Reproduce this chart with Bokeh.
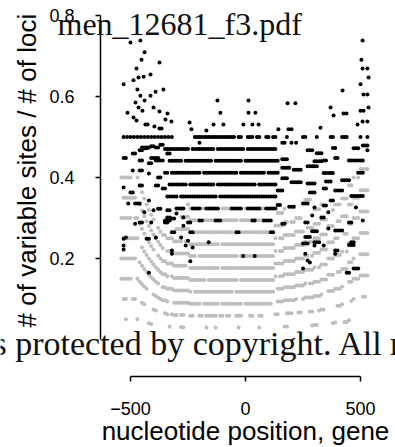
import math
from bokeh.plotting import figure
from bokeh.models import Range1d, FixedTicker, Label, LinearAxis
from bokeh.embed import file_html
from bokeh.resources import INLINE

# ---------------- data ----------------
# nucleotide positions (bins of 10 bp) relative to the gene
positions = list(range(-540, 540, 10))
# number of loci covering each position (estimated from band spacing)
loci_n = ([20] * 8
          + [21, 22, 23, 24, 25, 26, 27, 28, 29, 30, 31, 31, 32, 32, 32, 33, 33, 33, 33, 33, 33, 33]
          + [34] * 37
          + [32] * 4 + [31] * 5 + [30] * 4 + [29] * 4 + [28] * 3 + [27] * 3
          + [25] * 3 + [24] * 3 + [23] * 3 + [21] * 2 + [20] * 3 + [19] * 4)

# grey series: number of variable sites per row, and the position runs where it is seen
gray_counts = [1, 2, 3, 4, 5, 6, 7, 8, 9, 10, 11]
gray_runs = [
    [(-520, -520), (-470, -470), (-420, -410), (-330, -330), (-280, -270), (-170, -170), (-130, -130),
     (-30, -30), (60, 60), (170, 180), (290, 290), (300, 310), (380, 390), (430, 450)],
    [(-530, -520), (-490, -480), (-450, -440), (-400, -390), (-350, -340), (-320, -300), (-280, -270),
     (-240, -230), (-200, -190), (-170, -130), (-110, -100), (-80, -70), (-40, -20), (20, 30), (60, 70),
     (130, 140), (180, 200), (230, 240), (280, 290), (320, 340), (400, 420), (460, 470), (510, 520)],
    [(-540, -500), (-470, -430), (-400, -340), (-310, -200), (-180, -120), (-100, -20), (0, 110),
     (140, 220), (250, 330), (360, 420), (450, 530)],
    [(-540, -480), (-460, -380), (-360, -240), (-220, -60), (-40, 120), (140, 260), (280, 380),
     (400, 470), (500, 530)],
    [(-530, -470), (-450, -340), (-320, -180), (-160, -40), (-20, 130), (150, 300), (320, 420), (440, 530)],
    [(-540, -500), (-480, -400), (-380, -260), (-240, -120), (-100, 130), (140, 270), (290, 400), (430, 530)],
    [(-530, -480), (-460, -360), (-340, -220), (-200, -40), (-20, 130), (150, 260), (280, 380), (400, 530)],
    [(-540, -500), (-470, -400), (-380, -280), (-260, -120), (-100, 130), (150, 250), (270, 350),
     (380, 470), (490, 530)],
    [(-300, -250), (-220, -60), (-20, 100), (130, 180), (200, 240), (300, 330)],
    [(-280, -210), (-180, -140), (-100, -40), (-20, 70), (140, 170), (260, 280)],
    [(-250, -240), (-190, -180), (-100, -70), (0, 0), (70, 80)],
]

# black series: runs (start, end, value)
black_runs = [
    # flat rows in the middle of the gene
    (-220, -50, 0.5), (-30, -20, 0.5), (10, 30, 0.5), (50, 60, 0.5), (90, 100, 0.5),
    (120, 130, 0.5), (180, 180, 0.5), (250, 260, 0.5), (310, 310, 0.5), (370, 380, 0.5), (420, 440, 0.5),
    (500, 500, 0.5), (530, 530, 0.5),
    (-200, -200, 0.486), (160, 170, 0.486), (200, 200, 0.486), (220, 220, 0.486),
    (-350, -250, 0.4706), (-230, -140, 0.4706), (-120, -10, 0.4706), (10, 130, 0.4706),
    (-330, -280, 0.4412), (-260, -150, 0.4412), (-130, -20, 0.4412), (0, 100, 0.4412), (110, 140, 0.4412),
    (-320, -200, 0.4118), (-180, -40, 0.4118), (-20, 80, 0.4118), (100, 140, 0.4118),
    (-330, -260, 0.3824), (-240, -140, 0.3824), (-120, 40, 0.3824), (60, 130, 0.3824),
    (-340, -300, 0.3529), (-280, -130, 0.3529), (-110, 130, 0.3529),
    (-300, -270, 0.3235), (-230, -200, 0.3235), (-170, -120, 0.3235), (-60, -20, 0.3235), (10, 60, 0.3235),
    (90, 130, 0.3235),
    (-350, -330, 0.2941), (-200, -190, 0.2941), (-130, -110, 0.2941), (30, 40, 0.2941), (80, 110, 0.2941),
    (-320, -310, 0.2647), (-240, -230, 0.2647), (-40, -30, 0.2647), (110, 120, 0.2647),
    (-10, -10, 0.2059), (40, 40, 0.2059),
    # right end of the gene
    (510, 530, 0.479), (270, 290, 0.467), (310, 330, 0.460), (380, 390, 0.473), (470, 490, 0.472),
    (160, 180, 0.445), (300, 330, 0.440), (340, 350, 0.442), (390, 400, 0.448), (450, 510, 0.442),
    (530, 530, 0.467),
    (160, 190, 0.424), (210, 240, 0.419), (270, 310, 0.428), (340, 380, 0.411), (490, 510, 0.412),
    (160, 180, 0.398), (200, 240, 0.388), (270, 300, 0.385), (350, 370, 0.390), (420, 450, 0.393),
    (140, 160, 0.368), (280, 300, 0.363), (340, 350, 0.373), (390, 420, 0.368), (460, 510, 0.354),
    (140, 150, 0.332), (190, 210, 0.328), (250, 270, 0.336), (300, 300, 0.326), (340, 350, 0.331),
    (370, 380, 0.343), (480, 480, 0.326),
    (260, 270, 0.289), (290, 290, 0.306), (330, 340, 0.301), (360, 360, 0.314), (160, 170, 0.286),
    (450, 460, 0.289), (510, 510, 0.294),
    (290, 310, 0.267), (360, 360, 0.274), (390, 420, 0.269), (260, 280, 0.253), (300, 320, 0.240),
    (460, 470, 0.240),
    (250, 270, 0.237), (300, 300, 0.232), (340, 340, 0.232), (390, 400, 0.220), (450, 470, 0.233),
    (260, 260, 0.212), (280, 280, 0.190), (250, 250, 0.175), (390, 390, 0.212), (440, 450, 0.165),
    (470, 490, 0.175), (270, 270, 0.195),
    # left end of the gene
    (-530, -520, 0.448), (-490, -480, 0.459), (-460, -450, 0.467), (-440, -430, 0.472), (-410, -400, 0.477),
    (-370, -360, 0.481), (-450, -420, 0.474), (-390, -380, 0.474),
    (-460, -450, 0.442), (-410, -380, 0.448), (-340, -330, 0.459),
    (-490, -490, 0.417), (-460, -450, 0.417), (-420, -410, 0.435), (-390, -360, 0.442), (-420, -420, 0.410),
    (-380, -370, 0.400), (-350, -340, 0.412),
    (-530, -530, 0.375), (-500, -490, 0.363), (-460, -450, 0.380), (-390, -380, 0.380), (-360, -350, 0.373),
    (-510, -510, 0.336), (-480, -460, 0.336), (-420, -420, 0.343), (-380, -370, 0.323), (-340, -330, 0.319),
    (-300, -300, 0.311), (-440, -440, 0.314), (-400, -400, 0.319),
    (-460, -450, 0.289), (-410, -410, 0.289), (-480, -480, 0.286), (-350, -340, 0.289), (-340, -330, 0.301),
    (-320, -310, 0.299), (-270, -270, 0.301), (-270, -270, 0.281), (-250, -240, 0.289),
    (-520, -520, 0.252), (-530, -530, 0.249), (-430, -420, 0.249), (-390, -390, 0.252), (-280, -280, 0.252),
    (-250, -250, 0.244), (-160, -160, 0.240),
    (-320, -320, 0.220), (-530, -530, 0.222), (-530, -530, 0.232), (-420, -420, 0.165), (-320, -320, 0.212),
    (-260, -260, 0.232), (-230, -230, 0.227), (-240, -240, 0.193),
]

# single black points: the dotted 0.5 row at the left end, then the points above 0.5
point_x = [-530, -515, -500, -485, -470, -455, -440, -425, -410, -395, -380, -365, -350, -335, -320,
           -500, -457, -439, -452, -374, -474, -413, -443, -465, -487, -530, -470, -391, -357, -457, -413,
           -478, -439, -465, -400, -513, -448, -374, -339, -487, -474, -348, -322, -243, -435, -426, -396,
           -374, -365, -235, -170,
           -122, -109, -139, -96, 13, 13, 43, -9, 30, 57, 183, 217, 187, 200, 143, 326,
           509, 504, 509, 530, 535, 500, 422, 513, 530, 370, 383, 426, 439, 500, 513, 535, 487, 509, 530]
point_y = [0.5] * 15 + [
           0.733, 0.738, 0.709, 0.691, 0.684, 0.669, 0.654, 0.649, 0.647, 0.640, 0.630, 0.617, 0.612, 0.617,
           0.602, 0.602, 0.585, 0.590, 0.573, 0.573, 0.560, 0.565, 0.563, 0.558, 0.548, 0.541, 0.543, 0.538,
           0.536, 0.531, 0.531, 0.526, 0.521, 0.521, 0.519, 0.516,
           0.590, 0.560, 0.531, 0.531, 0.590, 0.560, 0.560, 0.531, 0.531, 0.531, 0.583, 0.583, 0.519, 0.519,
           0.519, 0.523,
           0.738, 0.691, 0.669, 0.669, 0.647, 0.630, 0.615, 0.605, 0.605, 0.573, 0.553, 0.558, 0.558, 0.565,
           0.565, 0.573, 0.531, 0.538, 0.538]

x_ticks = [-500, 0, 500]
x_tick_labels = ["\u2212500", "0", "500"]
y_ticks = [0.2, 0.4, 0.6, 0.8]

# ---------------- build point sets ----------------
n_at = dict(zip(positions, loci_n))
gx, gy = [], []
for k, runs in zip(gray_counts, gray_runs):
    for a, b in runs:
        for u in range(a, b + 1, 10):
            gx.append(u)
            gy.append(k / n_at[u])

bx, by = [], []
for a, b, v in black_runs:
    for u in range(a, b + 1, 10):
        bx.append(u)
        by.append(v)
bx += point_x
by += point_y

# ---------------- figure (frame fills the whole canvas) ----------------
W, H = 395, 447
p = figure(width=W, height=H, title=None,
           x_range=Range1d(-1065.2, 652.2), y_range=Range1d(-0.2667, 0.8370),
           x_axis_location=None, y_axis_location=None,
           output_backend="svg", toolbar_location=None,
           min_border_left=0, min_border_right=0, min_border_top=0, min_border_bottom=0)
p.outline_line_color = None
p.background_fill_color = "white"
p.border_fill_color = "white"
p.grid.visible = False

p.scatter(gx, gy, marker="circle", size=4, fill_color="#BEBEBE", line_color=None)
p.scatter(bx, by, marker="circle", size=4, fill_color="black", line_color=None)

xaxis = LinearAxis(fixed_location=-0.0914, ticker=FixedTicker(ticks=x_ticks, minor_ticks=[]),
                   bounds=(x_ticks[0], x_ticks[-1]),
                   major_label_overrides={t: s for t, s in zip(x_ticks, x_tick_labels)},
                   major_label_standoff=20)
yaxis = LinearAxis(fixed_location=-630.4, ticker=FixedTicker(ticks=y_ticks, minor_ticks=[]),
                   bounds=(0, 0.8), major_label_standoff=21)
for ax in (xaxis, yaxis):
    ax.axis_line_width = 1.5
    ax.axis_line_color = "black"
    ax.major_tick_line_width = 1.5
    ax.major_tick_line_color = "black"
    ax.major_tick_out = 5
    ax.major_tick_in = 0
    ax.minor_tick_out = 0
    ax.minor_tick_in = 0
    ax.major_label_text_font = "Liberation Sans"
    ax.major_label_text_font_size = "18px"
    ax.major_label_text_color = "black"
p.add_layout(xaxis, "below")
p.add_layout(yaxis, "left")

p.add_layout(Label(x=0, y=-0.2267, text="nucleotide position, gene", text_align="center",
                   text_baseline="alphabetic", text_font="Liberation Sans", text_font_size="26px",
                   text_color="black"))
p.add_layout(Label(x=-950, y=0.417, angle=math.pi / 2, text="# of variable sites / # of loci",
                   text_align="center", text_baseline="alphabetic", text_font="Liberation Sans",
                   text_font_size="26px", text_color="black"))
# overlaid page texts
p.add_layout(Label(x=-817.4, y=0.7778, text="men_12681_f3.pdf", text_align="left",
                   text_baseline="alphabetic", text_font="Liberation Serif", text_font_size="32px",
                   text_color="#111111"))
p.add_layout(Label(x=-1095.7, y=-0.0111, text="s protected by copyright. All r", text_align="left",
                   text_baseline="alphabetic", text_font="Liberation Serif", text_font_size="34px",
                   text_color="#111111"))

open("out.html", "w").write(file_html(p, INLINE))
